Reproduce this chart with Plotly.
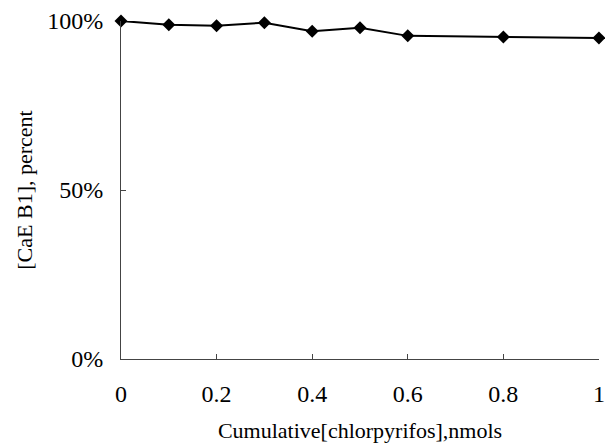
import plotly.graph_objects as go

x_vals = [0, 0.1, 0.2, 0.3, 0.4, 0.5, 0.6, 0.8, 1.0]
y_vals = [1.000, 0.989, 0.986, 0.995, 0.970, 0.980, 0.956, 0.953, 0.950]
x_ticks = [0, 0.2, 0.4, 0.6, 0.8, 1]
x_tick_labels = ["0", "0.2", "0.4", "0.6", "0.8", "1"]
y_ticks = [0, 0.5, 1.0]
y_tick_labels = ["0%", "50%", "100%"]

FONT = "Liberation Serif, Times New Roman, serif"

fig = go.Figure()
fig.add_trace(go.Scatter(
    x=x_vals, y=y_vals, mode="lines+markers",
    line=dict(color="black", width=2),
    marker=dict(symbol="diamond", size=10, color="black"),
    cliponaxis=False, showlegend=False,
))

fig.update_layout(
    width=605, height=448,
    paper_bgcolor="white", plot_bgcolor="white",
    margin=dict(l=121, r=6, t=21, b=89),
    font=dict(family=FONT, size=24, color="black"),
)
fig.update_xaxes(
    range=[0, 1.0001], tickvals=x_ticks, ticktext=x_tick_labels,
    showgrid=False, zeroline=False, automargin=False,
    showline=True, linecolor="#444", linewidth=1,
    ticks="inside", ticklen=5, tickcolor="#444",
    ticklabelstandoff=13,
    tickfont=dict(family=FONT, size=24),
    title=dict(text="Cumulative[chlorpyrifos],nmols", standoff=16,
               font=dict(family=FONT, size=22)),
)
fig.update_yaxes(
    range=[0, 1], tickvals=y_ticks, ticktext=y_tick_labels,
    showgrid=False, zeroline=False, automargin=False,
    showline=True, linecolor="#444", linewidth=1,
    ticks="inside", ticklen=5, tickcolor="#444",
    ticklabelstandoff=12,
    tickfont=dict(family=FONT, size=24),
    title=dict(text="[CaE B1], percent", standoff=8,
               font=dict(family=FONT, size=22)),
)

fig.write_html(
    "out.html",
    config={"displayModeBar": False},
    post_script="document.body.style.margin='0';document.body.style.padding='0';",
)
